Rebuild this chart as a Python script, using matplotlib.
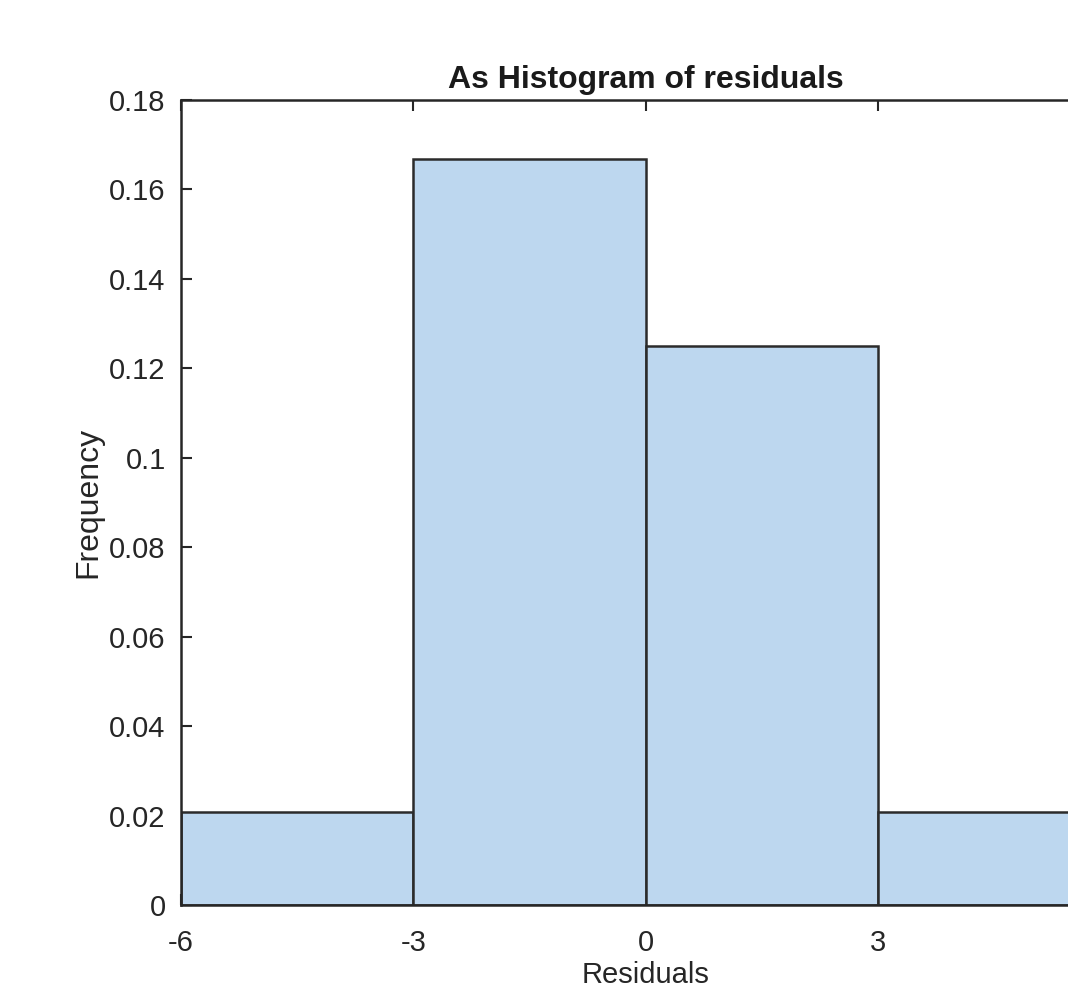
import matplotlib
matplotlib.use("Agg")
import matplotlib.pyplot as plt

# Histogram of residuals (pdf normalised), bin edges and heights
bin_edges = [-6, -3, 0, 3, 6]
bin_heights = [0.0208, 0.1667, 0.125, 0.0208]
x_ticks = [-6, -3, 0, 3]
y_ticks = [0, 0.02, 0.04, 0.06, 0.08, 0.1, 0.12, 0.14, 0.16, 0.18]
y_tick_labels = ["0", "0.02", "0.04", "0.06", "0.08", "0.1", "0.12", "0.14", "0.16", "0.18"]

plt.rcParams["font.family"] = ["Liberation Sans", "DejaVu Sans"]
DARK = "#262626"

fig = plt.figure(figsize=(10.68, 9.88), dpi=100)
# axes run past the right edge of the figure, like the cropped original
ax = fig.add_axes([181 / 1068, 83 / 988, 929 / 1068, 805 / 988])

widths = [b - a for a, b in zip(bin_edges[:-1], bin_edges[1:])]
ax.bar(bin_edges[:-1], bin_heights, width=widths, align="edge",
       color="#bdd7ef", edgecolor="#2b2b2b", linewidth=1.8, zorder=2)

ax.set_xlim(-6, 6)
ax.set_ylim(0, 0.18)
ax.set_xticks(x_ticks)
ax.set_xticklabels([str(t) for t in x_ticks])
ax.set_yticks(y_ticks)
ax.set_yticklabels(y_tick_labels)

ax.tick_params(direction="in", length=8, width=1.5, colors=DARK,
               labelsize=21, top=True, right=True)
ax.tick_params(axis="x", pad=17)
ax.tick_params(axis="y", pad=11)
for s in ax.spines.values():
    s.set_color(DARK)
    s.set_linewidth(1.8)

ax.set_title("As Histogram of residuals", fontsize=23, fontweight="bold",
             color="#1a1a1a", pad=9)
ax.set_xlabel("Residuals", fontsize=21, color=DARK, labelpad=3)
ax.set_ylabel("Frequency", fontsize=23, color=DARK, labelpad=4)

fig.savefig("out.png", dpi=100)
